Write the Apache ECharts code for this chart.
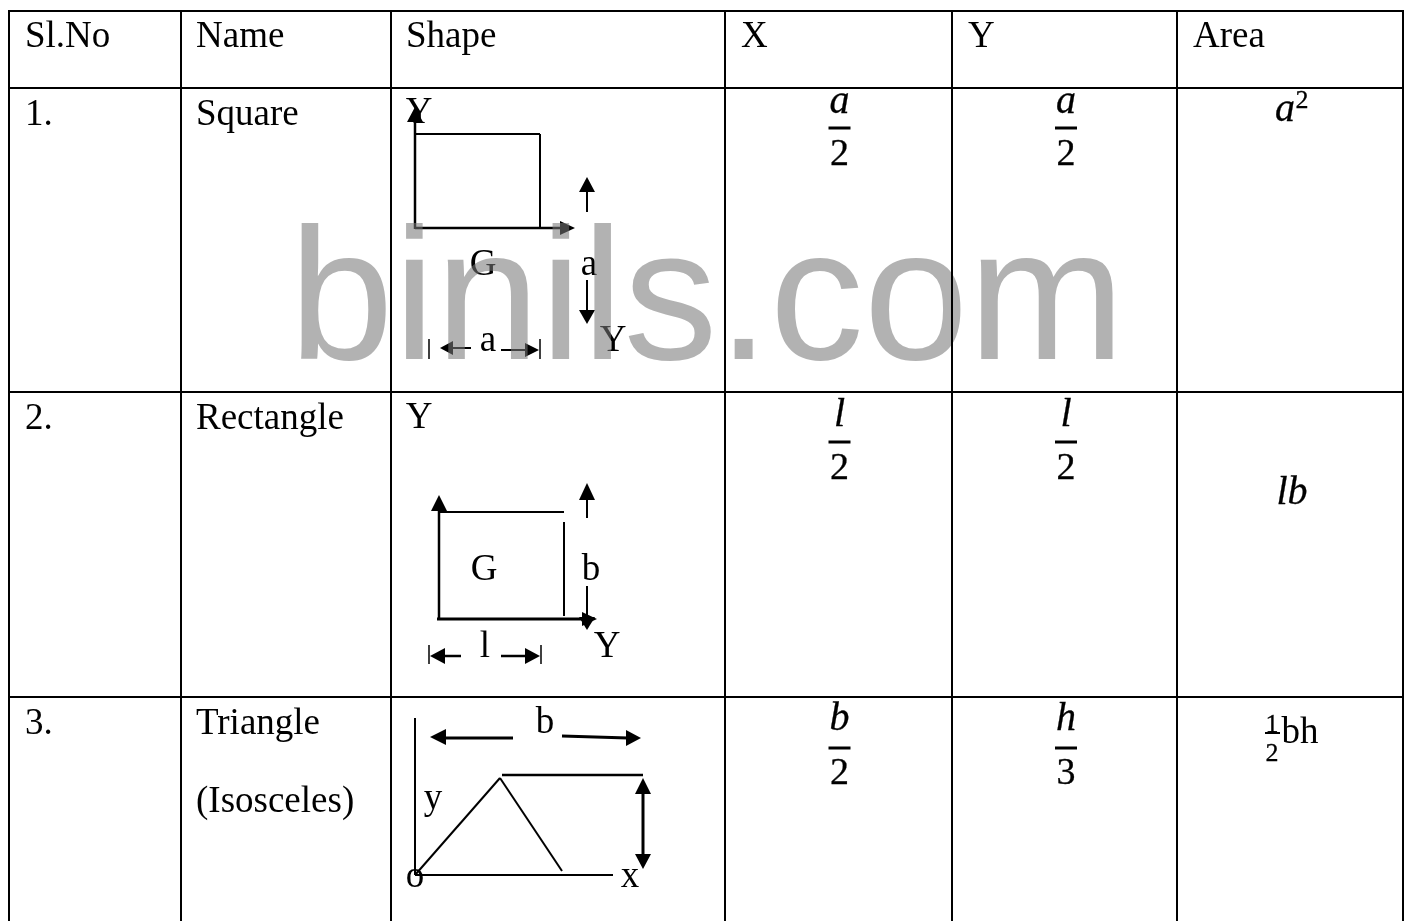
<!DOCTYPE html>
<html>
<head>
<meta charset="utf-8">
<title>Centroid table</title>
<style>
html, body { margin: 0; padding: 0; background: #fff; }
#main { width: 1406px; height: 921px; }
</style>
<script src="https://cdn.jsdelivr.net/npm/echarts@6/dist/echarts.min.js"></script>
</head>
<body>
<div id="main"></div>
<script>
// table content
var headers = ['Sl.No', 'Name', 'Shape', 'X', 'Y', 'Area'];
var serials = ['1.', '2.', '3.'];
var shapeNames = ['Square', 'Rectangle', 'Triangle'];
var shapeNote = '(Isosceles)';
var xNumerators = ['a', 'l', 'b'];
var xDenominators = ['2', '2', '2'];
var yNumerators = ['a', 'l', 'h'];
var yDenominators = ['2', '2', '3'];
var watermark = 'binils.com';

// table rules, in page pixels
var columnEdges = [9, 181, 391, 725, 952, 1177, 1403];
var rowEdges = [11, 88, 392, 697];
var columnText = [25, 196, 406, 741, 968, 1193];
var headerBaseline = 47;
var rowBaselines = [125, 429, 734];
var noteBaseline = 812;
var xCentre = 839.5;
var yCentre = 1066;
var fractionBars = [128, 442, 748];
var numeratorBaselines = [114, 427, 731];
var denominatorBaselines = [166, 480, 785];

// diagrams: x1, y1, x2, y2, line width
var diagramLines = [
    // square
    [415, 118, 415, 229, 2.5], [415, 134, 540, 134, 2], [540, 134, 540, 228, 2], [415, 228, 562, 228, 2.5],
    [587, 190, 587, 212, 2], [587, 280, 587, 312, 2],
    [429, 339, 429, 359, 1.5], [540, 339, 540, 359, 1.5], [451, 348, 471, 348, 2], [501, 350, 527, 350, 2],
    // rectangle
    [439, 509, 439, 620, 2.5], [439, 512, 564, 512, 2], [564, 522, 564, 616, 2], [437, 619, 584, 619, 3],
    [587, 498, 587, 518, 2], [587, 586, 587, 619, 2],
    [429, 645, 429, 664, 1.5], [541, 645, 541, 664, 1.5], [443, 656, 461, 656, 2.5], [501, 656, 527, 656, 2.5],
    // triangle
    [415, 718, 415, 875, 2], [444, 738, 513, 738, 3], [562, 736, 628, 738, 3],
    [502, 775, 643, 775, 2.5], [415, 875, 500, 778, 2], [500, 778, 562, 871, 2], [415, 875, 613, 875, 2],
    [643, 792, 643, 856, 3]
];
// arrow heads: tip x, tip y, base x, base y, half width
var arrowHeads = [
    [415, 107, 415, 122, 8], [575, 228, 560, 228, 7], [587, 177, 587, 192, 8], [587, 324, 587, 310, 8],
    [440, 348, 453, 348, 7], [539, 350, 525, 350, 7],
    [439, 495, 439, 511, 8], [597, 619, 582, 619, 7], [587, 483, 587, 500, 8], [587, 630, 587, 617, 8],
    [430, 656, 445, 656, 8], [540, 656, 525, 656, 8],
    [430, 737, 446, 737, 8], [641, 738, 626, 738, 8], [643, 778, 643, 794, 8], [643, 869, 643, 854, 8]
];
// diagram labels: text, centre x, baseline y
var diagramLabels = [
    ['Y', 419, 123], ['G', 483, 275], ['a', 589, 275], ['Y', 613, 351], ['a', 488, 351],
    ['Y', 419, 428], ['G', 484, 580], ['b', 591, 580], ['Y', 607, 657], ['l', 485, 657],
    ['b', 545, 733], ['y', 433, 809], ['o', 415, 887], ['x', 630, 887]
];

var serif = '"Liberation Serif"';

// text, x, baseline, size, align, italic
var cellTexts = [];
headers.forEach(function (h, i) { cellTexts.push([h, columnText[i], headerBaseline, 37, 'left', false]); });
serials.forEach(function (s, i) {
    cellTexts.push([s, columnText[0], rowBaselines[i], 37, 'left', false]);
    cellTexts.push([shapeNames[i], columnText[1], rowBaselines[i], 37, 'left', false]);
});
cellTexts.push([shapeNote, columnText[1], noteBaseline, 37, 'left', false]);
cellTexts.push(['bh', 1300, 743, 37, 'center', false]);

var mathTexts = [];
var mathBars = [];
for (var r = 0; r < 3; r++) {
    mathTexts.push([xNumerators[r], xCentre, numeratorBaselines[r], 40, 'center', true]);
    mathTexts.push([xDenominators[r], xCentre, denominatorBaselines[r], 38, 'center', false]);
    mathTexts.push([yNumerators[r], yCentre, numeratorBaselines[r], 40, 'center', true]);
    mathTexts.push([yDenominators[r], yCentre, denominatorBaselines[r], 38, 'center', false]);
    mathBars.push([xCentre - 11, fractionBars[r], xCentre + 11, fractionBars[r], 3]);
    mathBars.push([yCentre - 11, fractionBars[r], yCentre + 11, fractionBars[r], 3]);
}
// area column
mathTexts.push(['a', 1285, 122, 40, 'center', true]);
mathTexts.push(['2', 1302, 109, 26, 'center', false]);
mathTexts.push(['lb', 1292, 505, 40, 'center', true]);
mathTexts.push(['1', 1272, 733, 26, 'center', false]);
mathTexts.push(['2', 1272, 762, 26, 'center', false]);
mathBars.push([1265, 733, 1280, 733, 2]);

var tableRules = [];
columnEdges.forEach(function (x) { tableRules.push([x, rowEdges[0] - 1, x, 921, 2]); });
rowEdges.forEach(function (y) { tableRules.push([columnEdges[0] - 1, y, columnEdges[6] + 1, y, 2]); });

function lineLayer(list, z) {
    return {
        type: 'custom',
        z: z,
        silent: true,
        clip: false,
        data: list,
        renderItem: function (params, api) {
            var a = api.coord([api.value(0), api.value(1)]);
            var b = api.coord([api.value(2), api.value(3)]);
            return {
                type: 'line',
                shape: { x1: a[0], y1: a[1], x2: b[0], y2: b[1] },
                style: { stroke: '#000', lineWidth: api.value(4) }
            };
        }
    };
}

function arrowLayer(list, z) {
    return {
        type: 'custom',
        z: z,
        silent: true,
        clip: false,
        data: list,
        renderItem: function (params, api) {
            var tip = api.coord([api.value(0), api.value(1)]);
            var base = api.coord([api.value(2), api.value(3)]);
            var w = api.value(4);
            var dx = base[0] - tip[0];
            var dy = base[1] - tip[1];
            var len = Math.sqrt(dx * dx + dy * dy);
            var nx = -dy / len * w;
            var ny = dx / len * w;
            return {
                type: 'polygon',
                shape: { points: [tip, [base[0] + nx, base[1] + ny], [base[0] - nx, base[1] - ny]] },
                style: { fill: '#000' }
            };
        }
    };
}

// rows are text, x, baseline, size, align, italic
// rise is how far the middle of the line sits above the baseline, per px of font size
function textLayer(list, z, colour, family, rise, heavy) {
    return {
        type: 'custom',
        z: z,
        silent: true,
        clip: false,
        data: list.map(function (t, i) { return [t[1], t[2], i]; }),
        renderItem: function (params, api) {
            var t = list[params.dataIndex];
            var p = api.coord([t[1], t[2]]);
            return {
                type: 'text',
                x: p[0],
                y: p[1] - t[3] * rise,
                style: {
                    text: t[0],
                    fill: colour,
                    stroke: heavy ? colour : null,
                    lineWidth: heavy || 0,
                    align: t[4],
                    verticalAlign: 'middle',
                    font: (t[5] ? 'italic ' : '') + t[3] + 'px ' + family
                }
            };
        }
    };
}

var chartDom = document.getElementById('main');
var myChart = echarts.init(chartDom);

var option = {
    backgroundColor: '#fff',
    animation: false,
    grid: { left: 0, right: 0, top: 0, bottom: 0 },
    xAxis: { type: 'value', min: 0, max: 1406, show: false },
    yAxis: { type: 'value', min: 0, max: 921, inverse: true, show: false },
    series: [
        textLayer(cellTexts, 1, '#000', serif, 0.26),
        textLayer(mathTexts, 1, '#000', serif, 0.3, 0.3),
        lineLayer(mathBars, 1),
        lineLayer(diagramLines, 2),
        arrowLayer(arrowHeads, 2),
        textLayer(diagramLabels.map(function (d) {
            return [d[0], d[1], d[2], 37, 'center', false];
        }), 2, '#000', serif, 0.26),
        textLayer([[watermark, 289, 360, 188, 'left', false]], 3, 'rgba(119,119,119,0.57)', '"Liberation Sans"', 0.28),
        lineLayer(tableRules, 4)
    ]
};

option && myChart.setOption(option);
</script>
</body>
</html>
